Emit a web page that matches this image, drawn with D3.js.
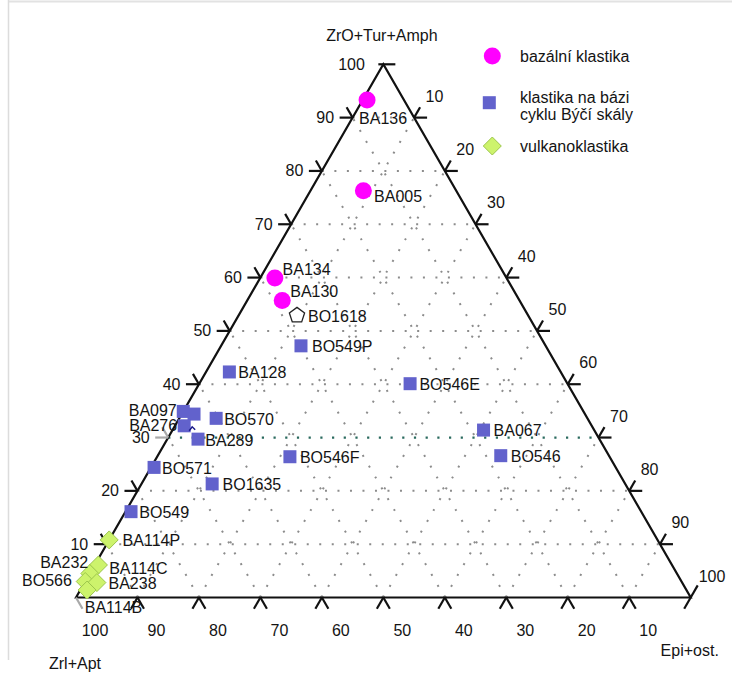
<!DOCTYPE html>
<html><head><meta charset="utf-8">
<script src="https://cdn.jsdelivr.net/npm/d3@7"></script>
<style>
body{margin:0;background:#fff}
text{font-family:Arial,"Liberation Sans",sans-serif;font-size:16px;fill:#141414}
</style>
</head><body>
<svg id="chart" width="732" height="673"></svg>
<script>
// ---------------- data ----------------
const axisTitles = ["ZrO+Tur+Amph", "Epi+ost.", "Zrl+Apt"]; // top, right, left vertex
const tickValues = [10, 20, 30, 40, 50, 60, 70, 80, 90, 100];
const groupNames = ["bazální klastika", "klastika na bázi|cyklu Býčí skály", "vulkanoklastika"];

const sampleNames = ["BA136","BA005","BA134","BA130","BO1618","BO549P","BA128","BO546E","BA067","BO546",
  "BA097","","BO570","BA276","BA289","BO571","BO1635","BO546F","BO549",
  "BA114P","BA114C","BA232","BO566","BA238","BA114B"];
// 0 = bazální klastika, 1 = klastika na bázi cyklu Býčí skály, 2 = vulkanoklastika, 3 = nezařazeno
const sampleGroup = [0,0,0,0,3,1,1,1,1,1,
  1,1,1,1,1,1,1,1,1,
  2,2,2,2,2,2];
// percentages
const zroTurAmph = [93.3,76.3,59.9,55.7,53.1,47.2,42.3,40.1,31.4,26.6,
  34.9,34.4,33.6,32.2,29.7,24.4,21.3,26.4,16.1,
  10.8,6.1,4.5,3.0,2.8,1.4];
const epiOst = [0.7,8.6,2.4,5.7,9.4,13.0,3.8,34.3,50.6,55.8,
  0.0,2.0,6.0,1.5,5.0,0.5,11.5,21.6,0.9,
  0.0,0.6,0.0,0.0,2.0,1.1];
const zrlApt = zroTurAmph.map((t, i) => +(100 - t - epiOst[i]).toFixed(1));

// ---------------- layout (not data) ----------------
const labelPlacement = {
  "BA136":[-8,24,"start"], "BA005":[10.7,11.8,"start"], "BA134":[7.7,-3.3,"start"],
  "BA130":[8,-3.7,"start"], "BO1618":[11,7.2,"start"], "BO549P":[11,6.5,"start"],
  "BA128":[9,6.2,"start"], "BO546E":[9.3,6,"start"], "BA067":[10,6,"start"],
  "BO546":[10,6.8,"start"], "BA097":[-6.5,5,"end"], "BO570":[8,6.7,"start"],
  "BA276":[-7,5.3,"end"], "BA289":[7.3,7,"start"], "BO571":[8,6.7,"start"],
  "BO1635":[10.4,6,"start"], "BO546F":[10,6,"start"], "BO549":[8.3,6.8,"start"],
  "BA114P":[13.4,6.5,"start"], "BA114C":[10.7,9,"start"], "BA232":[-1.6,-5.8,"end"],
  "BO566":[-13.3,4.3,"end"], "BA238":[11.6,6.3,"start"], "BA114B":[-2.3,22.5,"start"]
};
const groupFill = ["#ff00ff", "#6262cc", "#cdf36c", "none"];

const svg = d3.select("#chart");
// projection: horizontal coordinate = epi + zro/2, vertical = zro
const x = d3.scaleLinear().domain([0, 100]).range([76, 690.7]);
const y = d3.scaleLinear().domain([0, 100]).range([597.5, 64.3]);
const P = (top, right) => [x(right + top / 2), y(top)];
const line = d3.line();

// frame
svg.append("line").attr("x1",8).attr("x2",732).attr("y1",1.5).attr("y2",1.5).attr("stroke","#e2e2e2").attr("stroke-width",2);
svg.append("line").attr("x1",8.5).attr("x2",8.5).attr("y1",0).attr("y2",660).attr("stroke","#dcdcdc").attr("stroke-width",1.5);

// grid
const grid = svg.append("g");
tickValues.filter(v => v < 100).forEach(v => {
  const segs = [
    [P(v, 0), P(v, 100 - v), v === 30],
    [P(0, v), P(100 - v, v), false],
    [P(0, 100 - v), P(100 - v, 0), false]
  ];
  segs.forEach(([a, b, hi]) => {
    grid.append("path").attr("d", line([a, b]))
      .attr("fill", "none")
      .attr("stroke", hi ? "#2a6a5e" : "#8c8c8c")
      .attr("stroke-width", hi ? 2.2 : 2)
      .attr("stroke-dasharray", hi ? "2.2 9.5" : "2 10.5");
  });
});

// triangle
svg.append("path").attr("d", line([P(0,0), P(100,0), P(0,100)]) + "Z")
  .attr("fill","none").attr("stroke","#111").attr("stroke-width",2.2).attr("stroke-linejoin","miter");

// ticks
const tk = svg.append("g").attr("stroke-width", 2.2).attr("fill","none");
const seg = (a, dx, dy, col) => tk.append("path").attr("d", line([a, [a[0] + dx, a[1] + dy]])).attr("stroke", col || "#111");
const c60 = Math.cos(Math.PI/3), s60 = Math.sin(Math.PI/3);
tickValues.forEach(v => {
  // left edge: ZrO+Tur+Amph
  const L = P(v, 0);
  if (v === 100) {
    tk.append("path").attr("d", line([[L[0]-5, L[1]], [L[0]+12, L[1]]])).attr("stroke","#111");
  } else {
    const col = v === 30 ? "#a9a9a9" : "#111";
    seg(L, -13, 0, col); seg(L, -12*c60, -12*s60, col);
  }
  // right edge: Epi+ost.
  const R = P(100 - v, v);
  if (v === 100) { seg(R, 14*c60, -14*s60); }
  else { seg(R, 13, 0); seg(R, 12*c60, -12*s60); }
  // bottom edge: Zrl+Apt
  const B = P(0, 100 - v);
  if (v === 100) { seg(B, 13*c60, 13*s60, "#a9a9a9"); }
  else { seg(B, -13*c60, 13*s60); seg(B, 13*c60, 13*s60); }
});
seg(P(0,100), -13*c60, 13*s60);

// tick labels
const tl = svg.append("g");
tickValues.forEach(v => {
  const L = P(v, 0);
  tl.append("text").attr("x", L[0] - 18.5).attr("y", L[1] + 5.5).attr("text-anchor","end").text(v);
  const R = P(100 - v, v);
  tl.append("text").attr("x", R[0] + (v === 100 ? 8 : 11.5)).attr("y", R[1] - 16).text(v);
  const B = P(0, 100 - v);
  tl.append("text").attr("x", B[0] + 19).attr("y", 635.5).attr("text-anchor","middle").text(v);
});

// axis titles
svg.append("text").attr("x", x(50) - 1.5).attr("y", 41).attr("text-anchor","middle").text(axisTitles[0]);
svg.append("text").attr("x", x(100) - 1).attr("y", 656).attr("text-anchor","middle").text(axisTitles[1]);
svg.append("text").attr("x", x(0) - 1).attr("y", 669).attr("text-anchor","middle").text(axisTitles[2]);

// markers
function drawMarker(g, grp, cx, cy) {
  if (grp === 0) {
    g.append("circle").attr("cx",cx).attr("cy",cy).attr("r",8.5).attr("fill",groupFill[0]);
  } else if (grp === 1) {
    g.append("rect").attr("x",cx-6.5).attr("y",cy-6.5).attr("width",13).attr("height",13).attr("fill",groupFill[1]);
  } else if (grp === 2) {
    const h = 9;
    g.append("path").attr("d", line([[cx,cy-h],[cx+h,cy],[cx,cy+h],[cx-h,cy]]) + "Z")
      .attr("fill",groupFill[2]).attr("stroke","#9cc64c").attr("stroke-width",1);
  } else {
    const pts = d3.range(5).map(k => {
      const a = -Math.PI/2 + k * 2*Math.PI/5;
      return [cx + 8*Math.cos(a), cy + 1 + 8*Math.sin(a)];
    });
    g.append("path").attr("d", line(pts) + "Z").attr("fill","#fff").attr("stroke","#222").attr("stroke-width",1.3);
  }
}
const mk = svg.append("g");
const order = d3.range(sampleNames.length);
order.forEach(i => {
  const [cx, cy] = P(zroTurAmph[i], epiOst[i]);
  drawMarker(mk, sampleGroup[i], cx, cy);
});
// small annotation caret near BA276 (as in the source figure)
{
  const [cx, cy] = P(zroTurAmph[13], epiOst[13]);
  mk.append("path").attr("d", line([[cx+5, cy+5], [cx+8, cy+1], [cx+11, cy+4]]))
    .attr("fill","none").attr("stroke","#1c1c8a").attr("stroke-width",1.5);
}
// labels
const lb = svg.append("g");
order.forEach(i => {
  const name = sampleNames[i];
  if (!name) return;
  const [cx, cy] = P(zroTurAmph[i], epiOst[i]);
  const pl = labelPlacement[name];
  lb.append("text").attr("x", cx + pl[0]).attr("y", cy + pl[1]).attr("text-anchor", pl[2]).text(name);
});

// legend
const lg = svg.append("g");
const legendY = [56, 102.7, 146];
groupNames.forEach((g, k) => {
  const cx = k === 1 ? 489.3 : 492.3;
  drawMarker(lg, k, cx, legendY[k]);
  const lines = g.split("|");
  const t = lg.append("text").attr("x", 520).attr("y", k === 1 ? 102.5 : legendY[k] + 5.8);
  lines.forEach((s, j) => t.append("tspan").attr("x", 520).attr("dy", j === 0 ? 0 : 17).text(s));
});
</script>
</body></html>
